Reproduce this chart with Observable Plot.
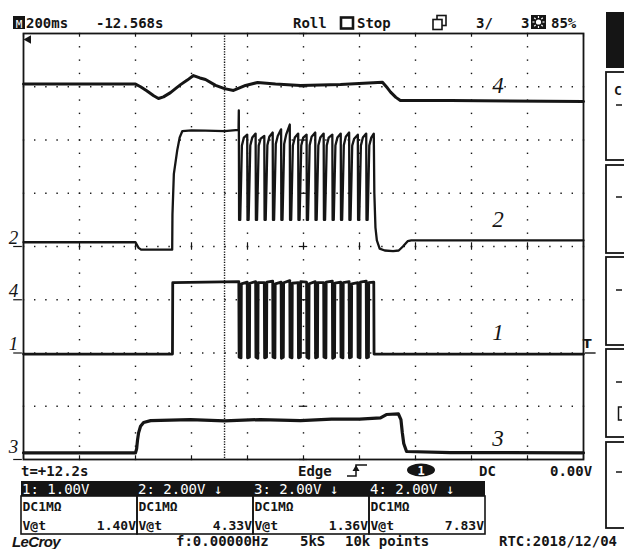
<!DOCTYPE html>
<html><head><meta charset="utf-8">
<script src="https://cdn.jsdelivr.net/npm/d3@7"></script>
<script src="https://cdn.jsdelivr.net/npm/@observablehq/plot@0.6"></script>
<style>
html,body{margin:0;padding:0;background:#fff;}
#wrap{position:relative;width:624px;height:549px;overflow:hidden;background:#fff;}
#wrap svg{position:absolute;left:0;top:0;}
</style></head><body><div id="wrap"></div>
<script>
// ---------- channel setup ----------
const channelIds   = [1, 2, 3, 4];
const groundDiv    = [2, 4, 0, 3];      // ground marker position, divisions from bottom
const voltsPerDiv  = [1, 2, 2, 2];
const scaleLabels  = ["1: 1.00V", "2: 2.00V \u2193", "3: 2.00V \u2193", "4: 2.00V \u2193"];
const couplingText = ["DC1M\u03A9", "DC1M\u03A9", "DC1M\u03A9", "DC1M\u03A9"];
const vAtValues    = ["1.40V", "4.33V", "1.36V", "7.83V"];
const traceLabels  = ["1", "2", "3", "4"];
const traceLabelT  = [1695, 1695, 1695, 1695];   // ms
const traceLabelDiv= [2.38, 4.50, 0.385, 7.03];
const triggerT = 718;      // ms from left edge (trigger / cursor line)
const msPerDiv = 200;

// ---------- traces (time ms from left edge, volts) ----------
const t1 = [0,532,533, 769,770,777,778, 799,800,807,808, 829,830,837,838, 860,861,868,869,
  890,891,898,899, 920,921,928,929, 951,952,959,960, 981,982,989,990, 1011,1012,1019,1020,
  1042,1043,1050,1051, 1072,1073,1080,1081, 1103,1104,1111,1112, 1133,1134,1141,1142,
  1163,1164,1171,1172, 1194,1195,1202,1203, 1224,1225,1232,1233, 1251,1252,2000];
const v1 = [-0.02,-0.02,1.32, 1.34,-0.08,-0.09,1.30, 1.33,-0.09,-0.08,1.31, 1.34,-0.08,-0.10,1.32, 1.32,-0.09,-0.08,1.33,
  1.35,-0.08,-0.09,1.30, 1.33,-0.10,-0.08,1.32, 1.36,-0.08,-0.09,1.31, 1.32,-0.09,-0.08,1.34, 1.33,-0.08,-0.10,1.30,
  1.34,-0.09,-0.08,1.32, 1.32,-0.08,-0.09,1.33, 1.35,-0.10,-0.08,1.31, 1.33,-0.08,-0.09,1.32,
  1.34,-0.09,-0.08,1.30, 1.32,-0.08,-0.09,1.33, 1.35,-0.09,-0.08,1.32, 1.33,-0.02,-0.02];

const t2 = [0,400,411,420,531,532,537,549,558,567,600,650,718,768,769,770,
  774,780,787,799,800, 804,810,817,829,830, 834,840,847,860,861, 865,871,878,890,891,
  895,901,908,920,921, 925,931,938,951,952, 956,962,969,981,982, 986,992,999,1011,1012,
  1016,1022,1029,1042,1043, 1047,1053,1060,1072,1073, 1077,1083,1090,1103,1104,
  1108,1114,1121,1133,1134, 1138,1144,1151,1163,1164, 1168,1174,1181,1194,1195,
  1199,1205,1212,1224,1225, 1229,1235,1242,1251,
  1253,1257,1262,1272,1290,1320,1340,1355,1372,1385,2000];
const v2 = [0.16,0.16,-0.05,-0.12,-0.12,1.2,2.73,3.61,4.1,4.33,4.36,4.35,4.33,4.38,5.11,1.0,
  1.0,3.79,4.09,4.20,1.0, 1.0,3.79,4.09,4.24,1.0, 1.0,3.79,4.05,4.15,1.0, 1.0,3.8,4.12,4.28,1.0,
  1.0,3.85,4.15,4.40,1.0, 1.0,3.85,4.2,4.58,1.0, 1.0,3.79,4.09,4.24,1.0, 1.0,3.79,4.09,4.20,1.0,
  1.0,3.8,4.12,4.28,1.0, 1.0,3.79,4.09,4.24,1.0, 1.0,3.79,4.09,4.20,1.0,
  1.0,3.79,4.09,4.24,1.0, 1.0,3.8,4.12,4.28,1.0, 1.0,3.79,4.05,4.20,1.0,
  1.0,3.79,4.09,4.24,1.0, 1.0,3.79,4.09,4.24,
  2.0,0.71,0.23,-0.08,-0.15,-0.17,-0.15,0.0,0.2,0.23,0.23];

const t3 = [0,400,404,407,411,418,429,454,596,718,846,989,1100,1200,1275,1296,1339,1348,1353,1358,1368,1525,2000];
const v3 = [0.25,0.25,0.4,0.71,1.0,1.25,1.39,1.46,1.50,1.45,1.50,1.46,1.52,1.52,1.56,1.69,1.71,1.5,1.0,0.6,0.30,0.26,0.25];

const t4 = [0,400,418,440,465,482,500,525,545,561,585,607,630,650,686,718,750,793,836,900,989,1132,1282,1300,1311,1330,1346,1525,2000];
const v4 = [8.10,8.10,8.0,7.85,7.66,7.56,7.62,7.78,7.95,8.08,8.25,8.42,8.33,8.27,8.05,7.93,7.86,8.05,8.16,8.1,8.05,8.08,8.17,7.95,7.8,7.6,7.48,7.48,7.45];

// ---------- build tables ----------
const series = [[t1, v1], [t2, v2], [t3, v3], [t4, v4]];
const traces = channelIds.flatMap((ch, i) => series[i][0].map((t, j) => ({ch, t, y: groundDiv[i] + series[i][1][j] / voltsPerDiv[i]})));
const grounds = channelIds.map((ch, i) => ({ch, label: String(ch), y: groundDiv[i]}));
const inLabels = traceLabels.map((s, i) => ({s, t: traceLabelT[i], y: traceLabelDiv[i]}));

const majorX = d3.range(0, 2001, msPerDiv);
const majorY = d3.range(0, 9, 1);
const hDots = [], vDots = [];
for (const y of majorY.slice(1, -1)) for (const t of d3.range(0, 2001, msPerDiv / 5)) hDots.push({t, y});
for (const t of majorX.slice(1, -1)) for (const y of d3.range(0, 8.01, 0.25)) vDots.push({t, y});

const ink = "#151515";
const chart = Plot.plot({
  width: 624, height: 549,
  marginLeft: 23, marginRight: 41, marginTop: 33, marginBottom: 90,
  x: {domain: [0, 2000], axis: null},
  y: {domain: [0, 8], axis: null},
  style: {background: "transparent"},
  marks: [
    Plot.dot(hDots, {x: "t", y: "y", r: 0.8, fill: ink, symbol: "square"}),
    Plot.dot(vDots, {x: "t", y: "y", r: 0.8, fill: ink, symbol: "square"}),
    Plot.ruleX(majorX, {y1: 3.93, y2: 4.07, stroke: ink, strokeWidth: 1.2}),
    Plot.ruleY(majorY, {x1: 985, x2: 1015, stroke: ink, strokeWidth: 1.2}),
    Plot.ruleX(majorX, {y1: 8, y2: 7.93, stroke: ink, strokeWidth: 1.2}),
    Plot.ruleX(majorX, {y1: 0, y2: 0.07, stroke: ink, strokeWidth: 1.2}),
    Plot.ruleX([triggerT], {stroke: ink, strokeWidth: 1.4, strokeDasharray: "1.3,1.3"}),
    Plot.frame({stroke: ink, strokeWidth: 1.8}),
    Plot.line(traces.filter(d => d.ch === 3), {x: "t", y: "y", stroke: ink, strokeWidth: 3.2, strokeLinejoin: "round"}),
    Plot.line(traces.filter(d => d.ch === 4), {x: "t", y: "y", stroke: ink, strokeWidth: 3.0, strokeLinejoin: "round"}),
    Plot.line(traces.filter(d => d.ch === 2), {x: "t", y: "y", stroke: ink, strokeWidth: 2.3, strokeLinejoin: "round"}),
    Plot.line(traces.filter(d => d.ch === 1), {x: "t", y: "y", stroke: ink, strokeWidth: 2.8, strokeLinejoin: "round"}),
    Plot.dot([{t: 0, y: 8}], {x: "t", y: "y", symbol: "triangle", r: 3.2, rotate: -90, fill: ink, dx: 5, dy: 6}),
    Plot.text(grounds.filter(d => d.y > 0), {y: "y", text: "label", frameAnchor: "left", dx: -10, dy: -9, textAnchor: "middle",
      fontFamily: "Liberation Serif", fontStyle: "italic", fontSize: 19, fill: ink}),
    Plot.text(grounds.filter(d => d.y === 0), {y: "y", text: "label", frameAnchor: "left", dx: -10, dy: -13, textAnchor: "middle",
      fontFamily: "Liberation Serif", fontStyle: "italic", fontSize: 19, fill: ink}),
    Plot.ruleY(grounds, {y: "y", x1: -35, x2: -4, stroke: ink, strokeWidth: 1.2}),
    Plot.text(inLabels, {x: "t", y: "y", text: "s", fontFamily: "Liberation Serif", fontStyle: "italic", fontSize: 23, fill: ink}),
    Plot.text(grounds.filter(d => d.ch === 1), {y: "y", text: () => "T", frameAnchor: "right", dx: 8, dy: -9,
      fontFamily: "DejaVu Sans", fontWeight: "bold", fontSize: 13, fill: ink}),
    Plot.ruleY(grounds.filter(d => d.ch === 1), {y: "y", x1: 2007, x2: 2045, stroke: ink, strokeWidth: 1.4})
  ]
});
document.getElementById("wrap").appendChild(chart);

// ---------- instrument screen chrome ----------
const ov = d3.select("#wrap").append("svg").attr("width", 624).attr("height", 549)
  .style("font-family", "DejaVu Sans Mono").style("font-weight", "bold");
function txt(x, y, s, o = {}) {
  return ov.append("text").attr("x", x).attr("y", y).text(s)
    .attr("font-size", o.size || 14).attr("fill", o.fill || ink)
    .attr("text-anchor", o.anchor || "start")
    .attr("font-family", o.family || null).attr("font-style", o.style || null)
    .attr("font-weight", o.weight || null);
}
function rect(x, y, w, h, o = {}) {
  return ov.append("rect").attr("x", x).attr("y", y).attr("width", w).attr("height", h)
    .attr("fill", o.fill || "none").attr("stroke", o.stroke || "none").attr("stroke-width", o.sw || 1);
}
// top status line
rect(13, 16, 12, 13, {fill: ink});
txt(19, 27.5, "M", {size: 11, fill: "#fff", anchor: "middle", weight: "normal"});
txt(26, 28, "200ms");
txt(96, 28, "-12.568s");
txt(293, 28, "Roll");
rect(341, 17.5, 12, 11, {fill: "#fff", stroke: ink, sw: 2.6});
txt(357, 28, "Stop");
rect(437, 15.5, 9, 10, {fill: "#fff", stroke: ink, sw: 1.6});
rect(433, 19.5, 9, 10, {fill: "#fff", stroke: ink, sw: 1.6});
txt(476, 28, "3/");
txt(521, 28, "3");
rect(531, 15, 15, 14, {fill: ink});
ov.append("circle").attr("cx", 538.5).attr("cy", 22).attr("r", 2.6).attr("fill", "#fff");
for (const a of d3.range(0, 360, 45)) {
  const r = a * Math.PI / 180;
  ov.append("line").attr("x1", 538.5 + 4 * Math.cos(r)).attr("y1", 22 + 4 * Math.sin(r))
    .attr("x2", 538.5 + 6 * Math.cos(r)).attr("y2", 22 + 6 * Math.sin(r)).attr("stroke", "#fff").attr("stroke-width", 1.2);
}
txt(551, 28, "85%");
// right side panels
rect(606, 12, 18, 56, {fill: ink});
for (const [y0, y1] of [[72, 160], [165, 253], [257, 345], [349, 437], [442, 528]]) rect(606, y0, 30, y1 - y0, {stroke: ink, sw: 1.8});
txt(614, 95, "C", {size: 13});
for (const y of [105, 197, 290, 382, 472]) ov.append("line").attr("x1", 616).attr("x2", 622).attr("y1", y).attr("y2", y).attr("stroke", ink).attr("stroke-width", 1.5);
ov.append("path").attr("d", "M622,407 H618.5 V420 H622").attr("fill", "none").attr("stroke", ink).attr("stroke-width", 1.5);
// trigger line
txt(21, 476, "t=+12.2s");
txt(298, 476, "Edge");
ov.append("path").attr("d", "M347,476 H356 V465 H367").attr("fill", "none").attr("stroke", ink).attr("stroke-width", 1.5);
ov.append("path").attr("d", "M352.5,471 L356,465 L359.5,471 Z").attr("fill", ink);
ov.append("ellipse").attr("cx", 421).attr("cy", 470).attr("rx", 14).attr("ry", 6.5).attr("fill", ink);
txt(421, 475, "1", {size: 12, fill: "#fff", anchor: "middle"});
txt(479, 476, "DC");
txt(550, 476, "0.00V");
// channel readouts
rect(21, 481, 464, 15, {fill: ink});
channelIds.forEach((ch, i) => {
  const x0 = 21 + 116 * i;
  txt(x0 + 1, 494, scaleLabels[i], {fill: "#fff", weight: "normal"});
  rect(x0, 496, 116, 38, {stroke: ink, sw: 1.6});
  txt(x0 + 1.5, 511, couplingText[i], {size: 13});
  txt(x0 + 1.5, 530, "V@t", {size: 13});
  txt(x0 + 115, 530, vAtValues[i], {size: 13, anchor: "end"});
});
// bottom line
txt(12, 547, "LeCroy", {size: 15, family: "Liberation Sans", style: "italic", weight: "bold"}).attr("letter-spacing", -0.6);
txt(176, 546, "f:0.00000Hz");
txt(300, 546, "5kS");
txt(345, 546, "10k points");
txt(499, 546, "RTC:2018/12/04");
</script></body></html>
